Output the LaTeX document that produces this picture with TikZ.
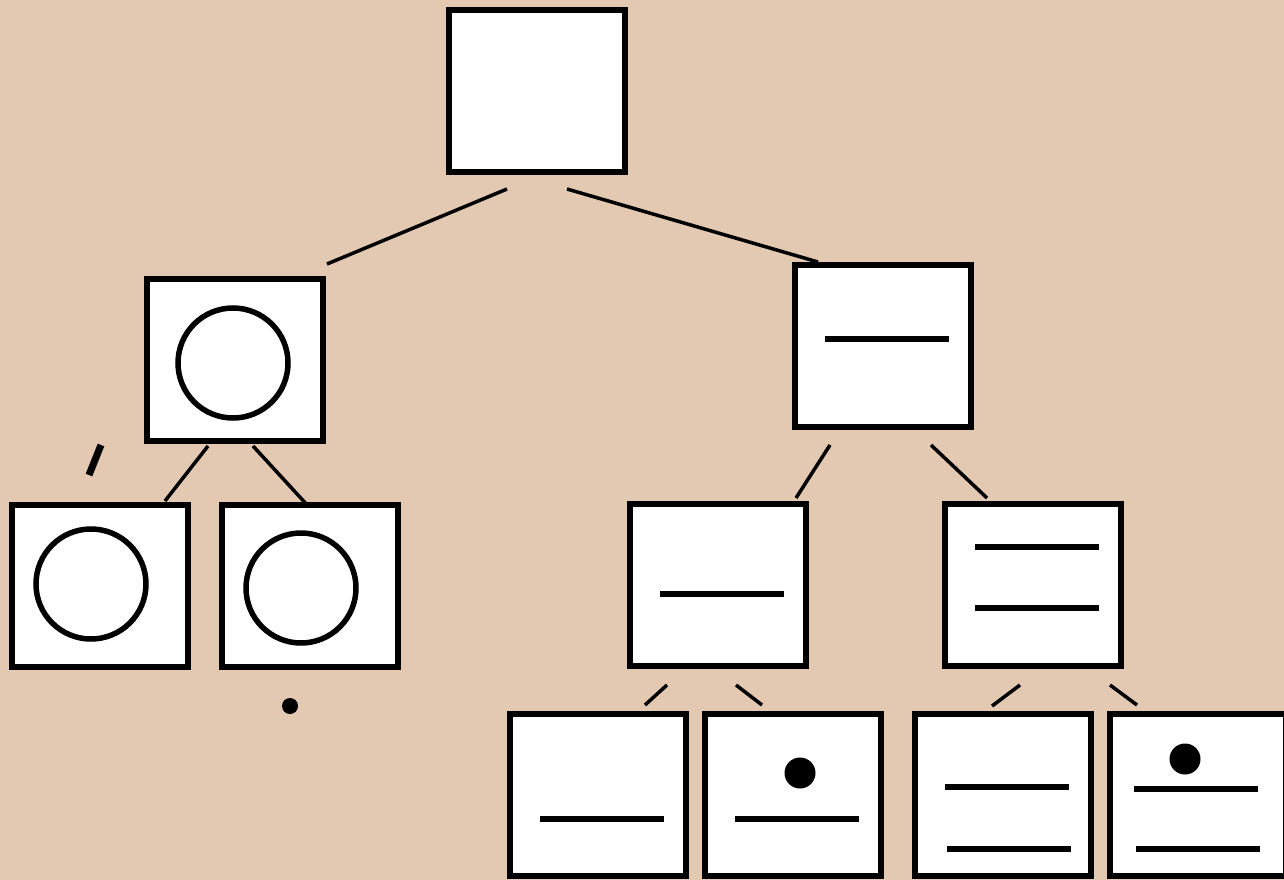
\documentclass[tikz,border=0pt]{standalone}
\usetikzlibrary{calc}
\definecolor{bg}{RGB}{227,200,178}
\begin{document}
\begin{tikzpicture}[x=1pt,y=-1pt,
  box/.style={draw=black,fill=white,line width=6pt,minimum width=176pt,minimum height=162pt,inner sep=0pt,outer sep=0pt},
  ring/.style={draw=black,fill=white,line width=5.5pt,ellipse,minimum width=111pt,minimum height=109pt,inner sep=0pt},
  dotc/.style={fill=black,circle,inner sep=0pt,minimum size=#1},
  conn/.style={line width=3.5pt},
  bar/.style={line width=6pt}]
\useasboundingbox (0,0) rectangle (1284,880);
\fill[bg] (0,0) rectangle (1284,880);
% boxes
\node[box] (root) at (537,91) {};
\node[box] (L) at (235,360) {};
\node[box] (R) at (883,346) {};
\node[box] (A) at (100,586) {};
\node[box] (B) at (310,586) {};
\node[box] (C) at (718,585) {};
\node[box] (D) at (1033,585) {};
\node[box] (E) at (598,795) {};
\node[box] (F) at (793,795) {};
\node[box] (G) at (1003,795) {};
\node[box] (H) at (1198,795) {};
% circles
\node[draw=black,fill=white,line width=5.5pt,circle,minimum size=110pt,inner sep=0pt] (cL) at (233,363) {};
\node[draw=black,fill=white,line width=5.5pt,circle,minimum size=110pt,inner sep=0pt] (cA) at (91,584) {};
\node[draw=black,fill=white,line width=5.5pt,circle,minimum size=110pt,inner sep=0pt] (cB) at (301,588) {};
% dots
\node[dotc=31pt] (dF) at (800,773) {};
\node[dotc=31pt] (dH) at (1185,759) {};
\node[dotc=16pt] (dx) at (290,706) {};
% bars
\draw[bar] (825,339) -- (949,339);
\draw[bar] (660,594) -- (784,594);
\draw[bar] (975,547) -- (1099,547);
\draw[bar] (975,608) -- (1099,608);
\draw[bar] (540,819) -- (664,819);
\draw[bar] (735,819) -- (859,819);
\draw[bar] (945,787) -- (1069,787);
\draw[bar] (947,849) -- (1071,849);
\draw[bar] (1134,789) -- (1258,789);
\draw[bar] (1136,849) -- (1260,849);
% stray mark
\coordinate (s1) at (101,445);
\coordinate (s2) at (89,475);
\draw[line width=7pt] (s1) -- (s2);
% connector endpoints
\coordinate (rL) at (507,189); \coordinate (Lt) at (327,264);
\coordinate (rR) at (567,189); \coordinate (Rt) at (818,262);
\coordinate (LA) at (208,446); \coordinate (At) at (165,501);
\coordinate (LB) at (253,446); \coordinate (Bt) at (309,507);
\coordinate (RC) at (830,445); \coordinate (Ct) at (796,498);
\coordinate (RD) at (931,445); \coordinate (Dt) at (987,498);
\coordinate (CE) at (667,685); \coordinate (Et) at (645,705);
\coordinate (CF) at (736,685); \coordinate (Ft) at (762,705);
\coordinate (DG) at (1020,685); \coordinate (Gt) at (992,706);
\coordinate (DH) at (1110,685); \coordinate (Ht) at (1137,705);
\draw[conn] (rL) -- (Lt);
\draw[conn] (rR) -- (Rt);
\draw[conn] (LA) -- (At);
\draw[conn] (LB) -- (Bt);
\draw[conn] (RC) -- (Ct);
\draw[conn] (RD) -- (Dt);
\draw[conn] (CE) -- (Et);
\draw[conn] (CF) -- (Ft);
\draw[conn] (DG) -- (Gt);
\draw[conn] (DH) -- (Ht);
\end{tikzpicture}
\end{document}
